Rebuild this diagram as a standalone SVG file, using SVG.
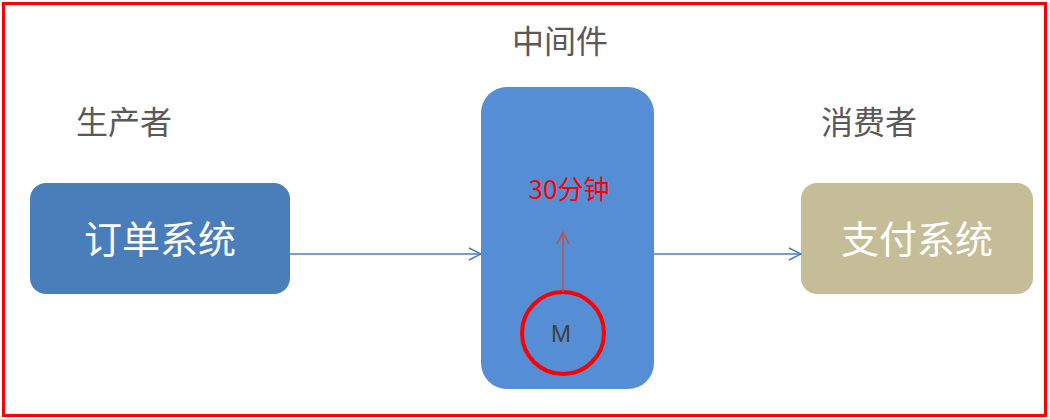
<svg xmlns="http://www.w3.org/2000/svg" width="1050" height="419" viewBox="0 0 1050 419">
<style>
.lbl{font-family:"Noto Sans CJK SC","Liberation Sans",sans-serif;font-size:32px;fill:#595959;text-anchor:middle}
.box{font-family:"Noto Sans CJK SC","Liberation Sans",sans-serif;font-size:38px;fill:#ffffff;text-anchor:middle}
</style>
<defs>
<marker id="ab" markerWidth="14" markerHeight="14" refX="13" refY="7" orient="auto" markerUnits="userSpaceOnUse">
<path d="M1,1 L13,7 L1,13" fill="none" stroke="#4A7EBB" stroke-width="1.5"/>
</marker>
<marker id="ar" markerWidth="14" markerHeight="14" refX="13" refY="7" orient="auto" markerUnits="userSpaceOnUse">
<path d="M1,1 L13,7 L1,13" fill="none" stroke="#C0504D" stroke-width="1.5"/>
</marker>
</defs>
<rect x="0" y="0" width="1050" height="419" fill="#ffffff"/>
<rect x="3.5" y="3.5" width="1042" height="412" fill="none" stroke="#FF0000" stroke-width="3"/>
<text class="lbl" x="124" y="134">生产者</text>
<text class="lbl" x="560" y="53">中间件</text>
<text class="lbl" x="869" y="134">消费者</text>
<g id="order">
<rect x="30" y="183" width="260" height="111" rx="16" fill="#4A7EBB"/>
<text class="box" x="160" y="253">订单系统</text>
</g>
<g id="middleware">
<rect x="481" y="87" width="173" height="302" rx="26" fill="#558ED5"/>
<text x="569" y="199" font-family="Noto Sans CJK SC,Liberation Sans,sans-serif" font-size="26" fill="#FF0000" text-anchor="middle">30分钟</text>
</g>
<g id="m">
<circle cx="563" cy="333" r="41" fill="none" stroke="#FF0000" stroke-width="4"/>
<text x="561" y="342" font-family="Liberation Sans,sans-serif" font-size="24" fill="#404040" text-anchor="middle">M</text>
</g>
<g id="payment">
<rect x="801" y="183" width="232" height="111" rx="16" fill="#C4BD97"/>
<text class="box" x="917" y="253">支付系统</text>
</g>
<g id="connectors" fill="none" stroke-width="1.5">
<line x1="290" y1="254" x2="481" y2="254" stroke="#4A7EBB" marker-end="url(#ab)"/>
<line x1="654" y1="254" x2="801" y2="254" stroke="#4A7EBB" marker-end="url(#ab)"/>
<line x1="563" y1="292" x2="563" y2="232" stroke="#C0504D" marker-end="url(#ar)"/>
</g>
</svg>
